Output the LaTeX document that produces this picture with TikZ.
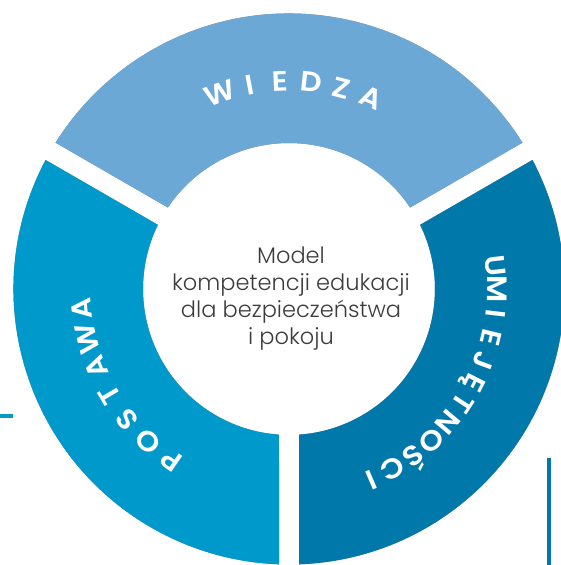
\documentclass[tikz,border=0pt]{standalone}
\usepackage{fontspec}
\usetikzlibrary{calc}
\IfFontExistsTF{Poppins SemiBold}{\newfontfamily\lblfnt{Poppins SemiBold}}{\IfFontExistsTF{Poppins Medium}{\newfontfamily\lblfnt{Poppins Medium}}{\newfontfamily\lblfnt{Poppins}}}
\IfFontExistsTF{Poppins Light}{\newfontfamily\centerfont{Poppins Light}}{\newfontfamily\centerfont{Poppins}}
\definecolor{topblue}{HTML}{6BA8D5}
\definecolor{leftblue}{HTML}{0099CC}
\definecolor{rightblue}{HTML}{0078AA}
\definecolor{centergray}{HTML}{3C3C3C}
\newcommand\ringseg[4]{($(C)+(#1:275.5pt)$) arc[start angle=#1, end angle=#2, radius=275.5pt] -- ($(C)+(#3:146pt)$) arc[start angle=#3, end angle=#4, radius=146pt] -- cycle}
\newlength\chw
\newcommand\letterxs{1.08}
% #1 name prefix, #2 start angle, #3 end angle (clockwise), #4 baseline radius (pt), #5 letters
\newcommand\arclabel[5]{%
  \gdef\totw{0}\gdef\nch{0}%
  \foreach \ch in {#5}{%
    \settowidth\chw{\lblfnt\fontsize{28}{33}\selectfont\ch}%
    \pgfmathsetmacro\tmpa{\totw+\chw*\letterxs}\xdef\totw{\tmpa}%
    \pgfmathtruncatemacro\tmpb{\nch+1}\xdef\nch{\tmpb}}%
  \pgfmathsetmacro\gapw{(abs(#2-#3)*pi/180*#4-\totw)/(\nch-1)}%
  \gdef\pos{0}%
  \foreach \ch [count=\i] in {#5}{%
    \settowidth\chw{\lblfnt\fontsize{28}{33}\selectfont\ch}%
    \pgfmathsetmacro\ang{#2-deg((\pos+\chw*\letterxs/2)/#4)}%
    \node[ringletter, rotate=\ang-90, xscale=\letterxs] (#1\i) at ($(C)+(\ang:#4pt)$) {\ch};
    \pgfmathsetmacro\tmpa{\pos+\chw*\letterxs+\gapw}\xdef\pos{\tmpa}}%
}
\tikzset{
  centertext/.style={font=\centerfont\fontsize{22.5}{27}\selectfont, text=centergray, anchor=base, inner sep=0pt},
  ringletter/.style={font=\lblfnt\fontsize{28}{33}\selectfont, text=white, anchor=base, inner sep=0pt},
  segshadow/.style={fill=black, opacity=0.055}
}
\begin{document}
\begin{tikzpicture}
\useasboundingbox (0,0) rectangle (561pt,565pt);
\clip (0,0) rectangle (561pt,565pt);
\fill[white] (0,0) rectangle (561pt,565pt);
\coordinate (C) at (289pt,276pt);
% shadows
\foreach \k in {1,...,10}{
  \fill[segshadow, shift={(\k*0.75pt,-\k*1.05pt)}] \ringseg{32.08}{147.92}{146.07}{33.93};
  \fill[segshadow, shift={(\k*0.75pt,-\k*1.05pt)}] \ringseg{152.08}{267.92}{266.07}{153.93};
  \fill[segshadow, shift={(\k*0.75pt,-\k*1.05pt)}] \ringseg{272.08}{387.92}{386.07}{273.93};
}
% segments
\fill[topblue] \ringseg{32.08}{147.92}{146.07}{33.93};
\fill[leftblue] \ringseg{152.08}{267.92}{266.07}{153.93};
\fill[rightblue] \ringseg{272.08}{387.92}{386.07}{273.93};
% ring labels
\arclabel{wiedza}{109.4}{66.8}{198}{W,I,E,D,Z,A}
\arclabel{postawa}{235.5}{185.5}{198}{P,O,S,T,A,W,A}
\arclabel{umiej}{6.5}{-66.7}{198}{U,M,I,E,J,Ę,T,N,O,Ś,C,I}
% centre text
\node[centertext] (l1) at (291pt,301pt) {Model};
\node[centertext] (l2) at (291pt,274pt) {kompetencji edukacji};
\node[centertext] (l3) at (291pt,247pt) {dla bezpieczeństwa};
\node[centertext] (l4) at (291pt,220pt) {i pokoju};
% side marks
\draw[leftblue, line width=3.5pt] (0,149pt) -- (13pt,149pt);
\draw[rightblue, line width=4pt] (548.5pt,0) -- (548.5pt,107pt);
\end{tikzpicture}
\end{document}
